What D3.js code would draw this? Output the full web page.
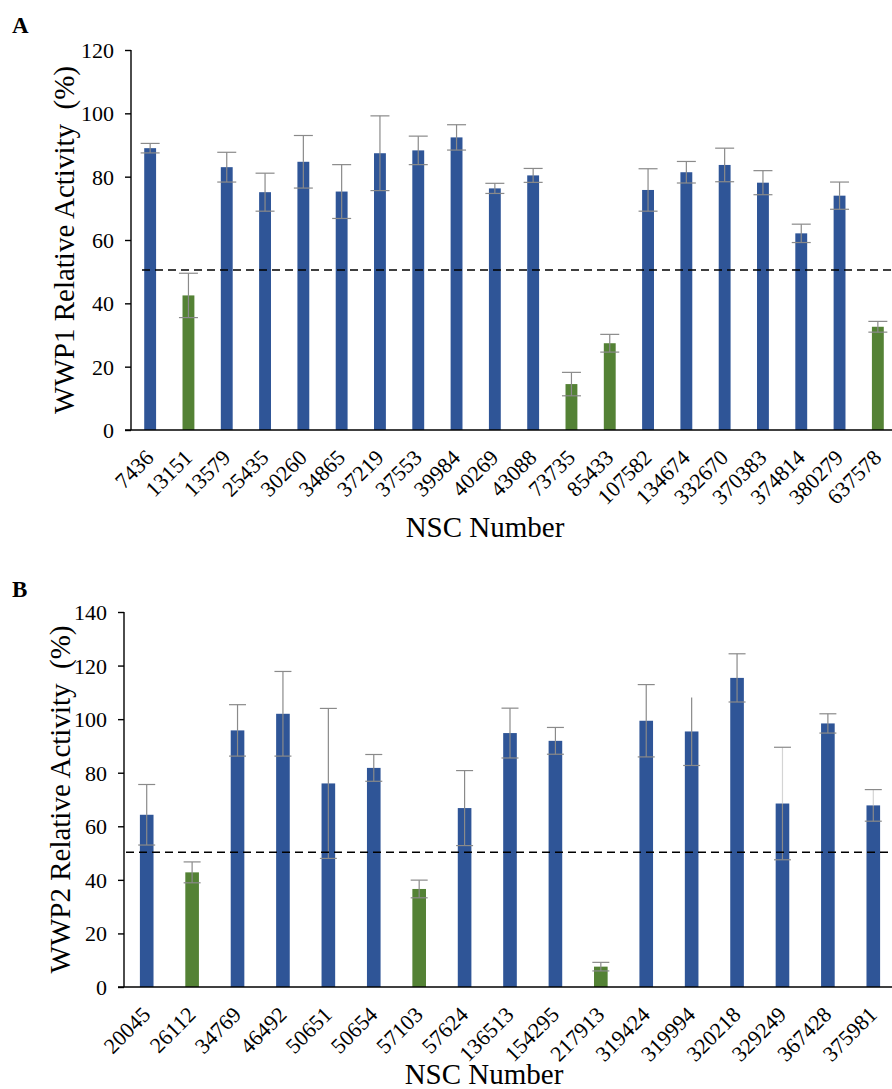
<!DOCTYPE html>
<html><head><meta charset="utf-8">
<script src="https://cdn.jsdelivr.net/npm/d3@7"></script>
<style>
body{margin:0;background:#fff}
text{font-family:"Liberation Serif","Times New Roman",serif;fill:#000}
</style>
</head><body>
<svg id="chart" width="892" height="1089"></svg>
<script>
// ---------- Panel A data (WWP1) ----------
const categoriesA = ["7436","13151","13579","25435","30260","34865","37219","37553","39984","40269","43088","73735","85433","107582","134674","332670","370383","374814","380279","637578"];
const valuesA = [89.0,42.5,83.0,75.1,84.7,75.3,87.4,88.3,92.4,76.3,80.4,14.5,27.4,75.8,81.4,83.7,78.1,62.1,74.0,32.6];
const errorsA = [1.5,7.0,4.7,6.0,8.3,8.5,11.8,4.5,4.0,1.6,2.2,3.7,2.8,6.7,3.4,5.3,3.8,2.9,4.3,1.7];
const yTicksA = [0,20,40,60,80,100,120];
const thresholdA = 50.5;

// ---------- Panel B data (WWP2) ----------
const categoriesB = ["20045","26112","34769","46492","50651","50654","57103","57624","136513","154295","217913","319424","319994","320218","329249","367428","375981"];
const valuesB = [64.3,42.8,95.8,102.0,76.0,81.8,36.6,66.8,94.8,91.9,7.6,99.4,95.4,115.4,68.5,98.4,67.8];
const errorsB = [11.3,3.9,9.6,15.8,28.0,5.0,3.3,14.0,9.3,5.0,1.6,13.5,12.7,9.0,21.0,3.6,5.9];
const upperCapB = [1,1,1,1,1,1,1,1,1,1,1,1,0,1,1,1,1];
const lightUpperB = [0,0,0,0,0,0,0,0,0,0,0,0,0,0,1,0,1];
const yTicksB = [0,20,40,60,80,100,120,140];
const thresholdB = 50.3;

const BLUE = "#2F5597", GREEN = "#548235", ERR = "#8a8a8a";
const svg = d3.select("#chart");

function panel(o) {
  const g = svg.append("g");
  const x = d3.scaleBand().domain(o.cats).range([o.x0, o.x1]).paddingInner(o.pad).paddingOuter(o.pad/2);
  const y = d3.scaleLinear().domain([0, o.yMax]).range([o.yb, o.yt]);
  const data = o.cats.map((c,i)=>({c, v:o.vals[i], e:o.errs[i], cap: o.upCap ? o.upCap[i] : 1, light: o.light ? o.light[i] : 0}));

  // bars
  g.selectAll("rect.bar").data(data).join("rect")
    .attr("x", d=>x(d.c)).attr("width", x.bandwidth())
    .attr("y", d=>y(d.v)).attr("height", d=>y(0)-y(d.v))
    .attr("fill", d=> d.v < o.thr ? GREEN : BLUE);

  // error bars
  const cx = d=>x(d.c)+x.bandwidth()/2;
  const hw = o.capW/2;
  g.selectAll("line.el").data(data).join("line")
    .attr("x1",cx).attr("x2",cx).attr("y1",d=>y(d.v)).attr("y2",d=>y(d.v-d.e))
    .attr("stroke",ERR).attr("stroke-width",1.2);
  g.selectAll("line.eu").data(data).join("line")
    .attr("x1",cx).attr("x2",cx).attr("y1",d=>y(d.v)).attr("y2",d=>y(d.v+d.e))
    .attr("stroke",d=>d.light? "#d4d4d4":ERR).attr("stroke-width",1.2);
  g.selectAll("line.cl").data(data).join("line")
    .attr("x1",d=>cx(d)-hw).attr("x2",d=>cx(d)+hw).attr("y1",d=>y(d.v-d.e)).attr("y2",d=>y(d.v-d.e))
    .attr("stroke",ERR).attr("stroke-width",1.2);
  g.selectAll("line.cu").data(data.filter(d=>d.cap)).join("line")
    .attr("x1",d=>cx(d)-hw).attr("x2",d=>cx(d)+hw).attr("y1",d=>y(d.v+d.e)).attr("y2",d=>y(d.v+d.e))
    .attr("stroke",ERR).attr("stroke-width",1.2);

  // threshold dashed line
  g.append("line").attr("x1",o.dashX).attr("x2",892).attr("y1",y(o.thr)).attr("y2",y(o.thr))
    .attr("stroke","#000").attr("stroke-width",1.5).attr("stroke-dasharray","8,5");

  // y axis
  const ya = g.append("g").attr("transform",`translate(${o.x0},0)`)
    .call(d3.axisLeft(y).tickValues(o.ticks).tickSize(6).tickPadding(11).tickFormat(d3.format("d")));
  ya.select(".domain").attr("stroke","#000").attr("stroke-width",1.4).attr("d",`M-0,${o.yt}V${o.yb}`);
  ya.selectAll(".tick line").attr("stroke","#000").attr("stroke-width",1.4);
  ya.selectAll(".tick text").style("font-size","22px").attr("dy","0.34em");

  // x axis line
  g.append("line").attr("x1",o.x0-6).attr("x2",892).attr("y1",o.yb).attr("y2",o.yb)
    .attr("stroke","#000").attr("stroke-width",1.6);

  // x tick labels
  g.selectAll("text.xl").data(data).join("text")
    .attr("transform",d=>`translate(${cx(d)+5},${o.yb+29}) rotate(-45)`)
    .attr("text-anchor","end").style("font-size","22px").text(d=>d.c);

  // titles
  g.append("text").attr("x",o.xtX).attr("y",o.xtY).attr("text-anchor","middle")
    .style("font-size","29px").text("NSC Number");
  g.append("text").attr("transform",`translate(${o.ytX},${(o.yt+o.yb)/2}) rotate(-90)`)
    .attr("text-anchor","middle").style("font-size","29px").style("white-space","pre").text(o.yTitle);
  g.append("text").attr("x",12).attr("y",o.labelY).style("font-size","23px").style("font-weight","bold").text(o.label);
}

panel({cats:categoriesA, vals:valuesA, errs:errorsA, x0:131, x1:897, yt:50, yb:430, yMax:120, ticks:yTicksA,
  thr:thresholdA, pad:0.69, capW:19, dashX:142, xtX:485, xtY:537, ytX:74, yTitle:"WWP1 Relative Activity  (%)", label:"A", labelY:33});
panel({cats:categoriesB, vals:valuesB, errs:errorsB, upCap:upperCapB, light:lightUpperB, x0:124, x1:896, yt:612, yb:987, yMax:140, ticks:yTicksB,
  thr:thresholdB, pad:0.70, capW:17, dashX:126, xtX:484, xtY:1084, ytX:70, yTitle:"WWP2 Relative Activity  (%)", label:"B", labelY:597});
</script>
</body></html>
